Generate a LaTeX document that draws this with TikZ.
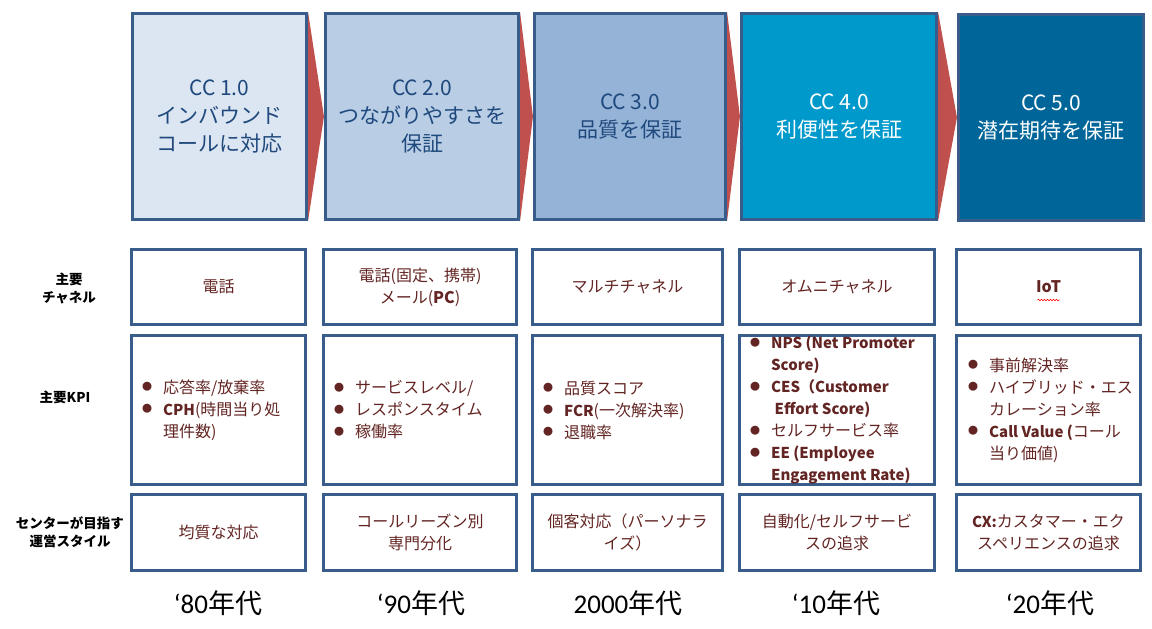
\documentclass[tikz,border=0pt]{standalone}
\usepackage{fontspec}
\setmainfont{Noto Sans CJK JP}
\newfontfamily\enf{Carlito}
\usetikzlibrary{decorations.pathmorphing}
\definecolor{bordc}{HTML}{385D8A}
\definecolor{fa}{HTML}{DCE6F2}
\definecolor{fb}{HTML}{B9CDE5}
\definecolor{fc}{HTML}{95B3D7}
\definecolor{fd}{HTML}{0099CC}
\definecolor{fe}{HTML}{006699}
\definecolor{arr}{HTML}{C0504D}
\definecolor{navy}{HTML}{1F497D}
\definecolor{mar}{HTML}{632523}
\newcommand\bl{\makebox[21pt][l]{\raisebox{2.5pt}{\fontsize{10}{10}\selectfont ●}}}
\newcommand\ind{\hspace*{21pt}}
\newcommand\enb[1]{{\fontsize{15}{22}\selectfont\bfseries #1}}
\tikzset{
  topbox/.style={draw=bordc, line width=2.6pt, inner sep=0pt, align=center,
    font=\fontsize{21}{28}\selectfont, text=navy, minimum height=206.5pt},
  cell/.style={draw=bordc, line width=2.6pt, inner sep=0pt, align=center,
    font=\fontsize{16}{22}\selectfont, text=mar},
  chrow/.style={cell, minimum height=75.5pt},
  kpirow/.style={cell, minimum height=149.5pt},
  strow/.style={cell, minimum height=76.5pt},
  lab/.style={align=center, font=\fontsize{13.5}{18}\selectfont\bfseries, text=black},
  dec/.style={font=\fontsize{27}{30}\selectfont, text=black},
  chev/.style={fill=arr},
  klist/.style={anchor=west, inner sep=0pt, align=left, font=\fontsize{16}{22}\selectfont, text=mar}
}
\begin{document}
\begin{tikzpicture}[x=1pt,y=-1pt]
\fill[white] (0,0) rectangle (1152,629);
\useasboundingbox (0,0) rectangle (1152,629);
% top row
\node[topbox, fill=fa, minimum width=174.5pt] (t1) at (219.5,116.5) {CC 1.0\\インバウンド\\コールに対応};
\node[topbox, fill=fb, minimum width=193.5pt] (t2) at (422,116.5) {CC 2.0\\つながりやすさを\\保証};
\node[topbox, fill=fc, minimum width=191.5pt] (t3) at (630,116.5) {CC 3.0\\品質を保証};
\node[topbox, fill=fd, minimum width=195.5pt, text=white] (t4) at (839,116.5) {CC 4.0\\利便性を保証};
\node[topbox, fill=fe, minimum width=185.5pt, text=white] (t5) at (1051,117.5) {CC 5.0\\潜在期待を保証};
\fill[chev] (t1.north east) -- (t2.west) -- (t1.south east) -- cycle;
\fill[chev] (t2.north east) -- (t3.west) -- (t2.south east) -- cycle;
\fill[chev] (t3.north east) -- (t4.west) -- (t3.south east) -- cycle;
\fill[chev] (t4.north east) -- (t5.west) -- (t4.south east) -- cycle;
% left labels
\node[lab] (l1) at (69,288) {主要\\チャネル};
\node[lab] (l2) at (65,397) {主要KPI};
\node[lab] (l3) at (70,532) {センターが目指す\\運営スタイル};
% channel row
\node[chrow, minimum width=174.5pt] (c1) at (218.5,287) {電話};
\node[chrow, minimum width=193.5pt] (c2) at (420,287) {電話(固定、携帯)\\メール(\textbf{PC})};
\node[chrow, minimum width=190.5pt] (c3) at (627.5,287) {マルチチャネル};
\node[chrow, minimum width=195.5pt] (c4) at (837,287) {オムニチャネル};
\node[chrow, minimum width=184.5pt] (c5) at (1048.5,287) {\textbf{IoT}};
\draw[red, line width=0.6pt, decorate, decoration={snake, amplitude=0.8pt, segment length=3pt}]
  ([xshift=-11pt,yshift=-13pt]c5.center) -- ([xshift=11pt,yshift=-13pt]c5.center);
% KPI row
\node[kpirow, minimum width=174.5pt] (k1) at (218.5,410) {};
\node[kpirow, minimum width=193.5pt] (k2) at (420,410) {};
\node[kpirow, minimum width=190.5pt] (k3) at (627.5,410) {};
\node[kpirow, minimum width=195.5pt] (k4) at (837,410) {};
\node[kpirow, minimum width=184.5pt] (k5) at (1048.5,410) {};
\node[klist] (kl1) at ([xshift=12pt]k1.west) {\bl 応答率/放棄率\\\bl\enb{CPH}(時間当り処\\\ind 理件数)};
\node[klist] (kl2) at ([xshift=12pt]k2.west) {\bl サービスレベル/\\\bl レスポンスタイム\\\bl 稼働率};
\node[klist] (kl3) at ([xshift=12pt]k3.west) {\bl 品質スコア\\\bl\enb{FCR}(一次解決率)\\\bl 退職率};
\node[klist] (kl4) at ([xshift=12pt]k4.west) {\bl\enb{NPS (Net Promoter}\\\ind\enb{Score)}\\\bl\enb{CES（Customer}\\\ind\enb{\ Effort Score)}\\\bl セルフサービス率\\\bl\enb{EE (Employee}\\\ind\enb{Engagement Rate)}};
\node[klist] (kl5) at ([xshift=13pt]k5.west) {\bl 事前解決率\\\bl ハイブリッド・エス\\\ind カレーション率\\\bl\enb{Call Value (}コール\\\ind 当り価値)};
% style row
\node[strow, minimum width=174.5pt] (s1) at (218.5,532.5) {均質な対応};
\node[strow, minimum width=193.5pt] (s2) at (420,532.5) {コールリーズン別\\専門分化};
\node[strow, minimum width=190.5pt] (s3) at (627.5,532.5) {個客対応（パーソナラ\\イズ）};
\node[strow, minimum width=195.5pt] (s4) at (837,532.5) {自動化/セルフサービ\\スの追求};
\node[strow, minimum width=184.5pt] (s5) at (1048.5,532.5) {\enb{CX:}カスタマー・エク\\スペリエンスの追求};
% decades
\node[dec] (d1) at (218,603) {{\enf ‘80}年代};
\node[dec] (d2) at (421,603) {{\enf ‘90}年代};
\node[dec] (d3) at (628,603) {{\enf 2000}年代};
\node[dec] (d4) at (836,603) {{\enf ‘10}年代};
\node[dec] (d5) at (1050,603) {{\enf ‘20}年代};
\end{tikzpicture}
\end{document}
